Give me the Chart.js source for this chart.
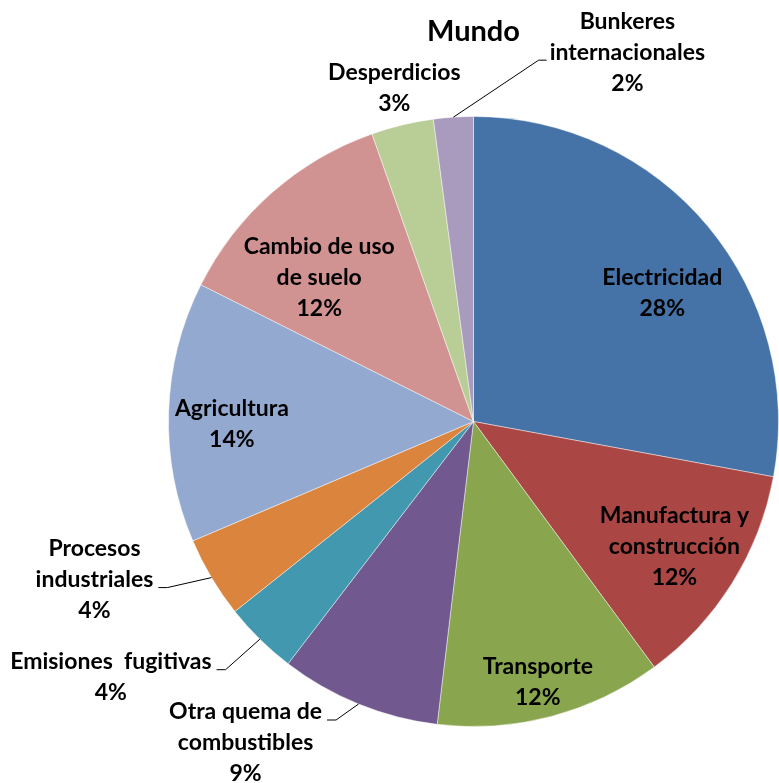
<!DOCTYPE html>
<html>
<head>
<meta charset="utf-8">
<script src="https://cdn.jsdelivr.net/npm/chart.js@4"></script>
<style>
  html, body { margin: 0; padding: 0; background: #fff; }
  canvas { display: block; }
</style>
</head>
<body>
<canvas id="pieChart" width="779" height="783"></canvas>
<script>
// datos (porcentaje de emisiones, Mundo)
var categorias = [
  "Electricidad",
  "Manufactura y construcción",
  "Transporte",
  "Otra quema de combustibles",
  "Emisiones fugitivas",
  "Procesos industriales",
  "Agricultura",
  "Cambio de uso de suelo",
  "Desperdicios",
  "Bunkeres internacionales"
];
var valores = [27.9, 12.0, 12.0, 8.5, 3.9, 4.3, 13.8, 12.2, 3.3, 2.1];
// como se parten las etiquetas en lineas
var lineasEtiqueta = [
  ["Electricidad"],
  ["Manufactura y", "construcción"],
  ["Transporte"],
  ["Otra quema de", "combustibles"],
  ["Emisiones  fugitivas"],
  ["Procesos", "industriales"],
  ["Agricultura"],
  ["Cambio de uso", "de suelo"],
  ["Desperdicios"],
  ["Bunkeres", "internacionales"]
];
var titulo = "Mundo";

var colores = ["#4572A7", "#AA4643", "#89A54E", "#71588F", "#4198AF",
               "#DB843D", "#93A9CF", "#D19392", "#B9CD96", "#A99BBD"];

// ubicacion de etiquetas: dentro (ratio del radio) o fuera (desde el borde) + ajuste
var ubicacion = [
  { inside: true, ratio: 0.75, dx: 13, dy: 18 },
  { inside: true, ratio: 0.75, dx: 7, dy: 4 },
  { inside: true, ratio: 0.75, dx: 6, dy: 39 },
  { inside: false, dx: -113, dy: 39, leader: { line: 0, side: "right" } },
  { inside: false, dx: -149, dy: 38, leader: { line: 0, side: "right" } },
  { inside: false, dx: -117, dy: 2, leader: { line: 1, side: "right" } },
  { inside: true, ratio: 0.75, dx: -13, dy: 10 },
  { inside: true, ratio: 0.75, dx: -3, dy: 28 },
  { inside: false, dx: -8, dy: -37 },
  { inside: false, dx: 174, dy: -65, leader: { line: 1, side: "left" } }
];

var FONT = "Lato, 'Open Sans', sans-serif";
var LINE_H = 31;

var etiquetasPlugin = {
  id: "etiquetas",
  afterDraw: function (chart) {
    var ctx = chart.ctx;
    var meta = chart.getDatasetMeta(0);
    ctx.save();
    ctx.fillStyle = "#000";
    ctx.textAlign = "center";
    ctx.textBaseline = "middle";

    // titulo
    ctx.font = "bold 29px " + FONT;
    var a0 = meta.data[0];
    ctx.fillText(titulo, a0.x, 32);

    ctx.font = "bold 23px " + FONT;
    meta.data.forEach(function (arc, i) {
      var mid = (arc.startAngle + arc.endAngle) / 2;
      var u = ubicacion[i];
      var r = u.inside ? arc.outerRadius * u.ratio : arc.outerRadius;
      var ex = arc.x + Math.cos(mid) * arc.outerRadius;
      var ey = arc.y + Math.sin(mid) * arc.outerRadius;
      var cx = arc.x + Math.cos(mid) * r + u.dx;
      var cy = arc.y + Math.sin(mid) * r + u.dy;
      var lines = lineasEtiqueta[i].concat([Math.round(valores[i]) + "%"]);
      var top = cy - (lines.length - 1) * LINE_H / 2;
      lines.forEach(function (t, k) {
        ctx.fillText(t, cx, top + k * LINE_H);
      });
      if (u.leader) {
        var ln = lines[u.leader.line];
        var w = ctx.measureText(ln).width;
        var ly = top + u.leader.line * LINE_H + 8;
        var endX, elbowX;
        if (u.leader.side === "right") {
          endX = cx + w / 2 + 5;
          elbowX = endX + 9;
        } else {
          endX = cx - w / 2 - 3;
          elbowX = endX - 8;
        }
        ctx.beginPath();
        ctx.strokeStyle = "#000";
        ctx.lineWidth = 1;
        ctx.moveTo(endX, ly);
        ctx.lineTo(elbowX, ly);
        ctx.lineTo(ex, ey);
        ctx.stroke();
      }
    });
    ctx.restore();
  }
};

new Chart(document.getElementById("pieChart").getContext("2d"), {
  type: "pie",
  data: {
    labels: categorias,
    datasets: [{
      data: valores,
      backgroundColor: colores,
      borderColor: "rgba(255,255,255,0.45)",
      borderWidth: 1
    }]
  },
  options: {
    responsive: false,
    animation: false,
    layout: { padding: { left: 168, right: 0, top: 116, bottom: 56 } },
    plugins: {
      legend: { display: false },
      tooltip: { enabled: false },
      title: { display: false }
    }
  },
  plugins: [etiquetasPlugin]
});
</script>
</body>
</html>
